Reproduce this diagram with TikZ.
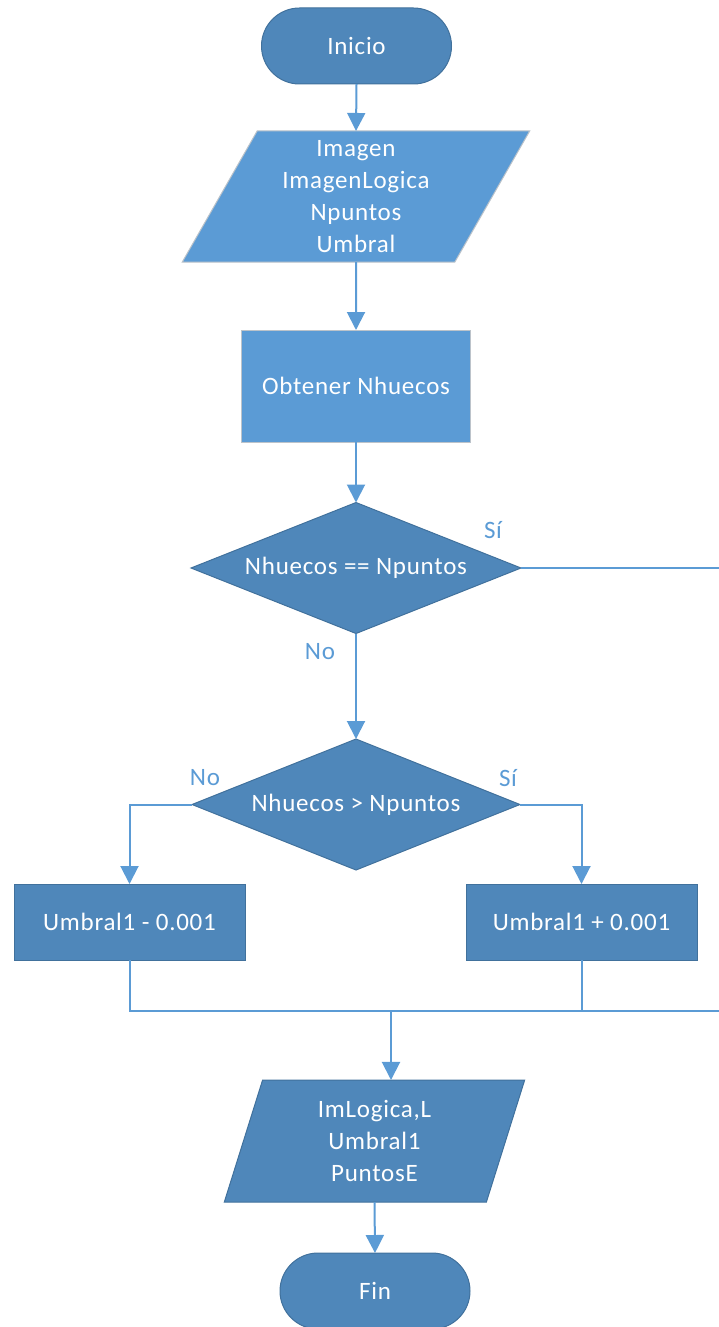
\documentclass[tikz,border=0pt]{standalone}
\usepackage{fontspec}
\setmainfont{Carlito}[LetterSpace=3]
\usetikzlibrary{shapes.geometric,shapes.misc,arrows.meta}
\definecolor{lblue}{HTML}{5B9BD5}
\definecolor{dblue}{HTML}{4F87BA}
\definecolor{dborder}{HTML}{41719C}
\definecolor{gborder}{HTML}{BCC3CA}
\begin{document}
\begin{tikzpicture}[x=1pt,y=-1pt,
  every node/.style={font=\fontsize{25}{32}\selectfont, align=center, inner sep=0pt, outer sep=0pt},
  shp/.style={text=white, line width=1pt},
  lightshp/.style={shp, fill=lblue, draw=gborder},
  darkshp/.style={shp, fill=dblue, draw=dborder},
  term/.style={darkshp, rounded rectangle, minimum width=190pt, minimum height=76pt},
  iobox/.style={trapezium, trapezium stretches=true},
  procl/.style={lightshp, rectangle, minimum width=229pt, minimum height=112pt},
  procd/.style={darkshp, rectangle, minimum width=231pt, minimum height=76pt},
  dec/.style={darkshp, diamond, aspect=2.5, minimum width=328pt, minimum height=131pt},
  conn/.style={draw=lblue, line width=2pt},
  arr/.style={conn, -{Triangle[length=18pt,width=18pt]}},
  lbl/.style={text=lblue}
]
\useasboundingbox (0,0) rectangle (719,1327);

\node[term] (ini) at (356.5,46) {Inicio};
\node[lightshp, iobox, trapezium left angle=63.6, trapezium right angle=116.4,
      minimum width=348pt, minimum height=131pt] (p1) at (356,196.5)
      {Imagen\\ImagenLogica\\Npuntos\\Umbral};
\node[procl] (obt) at (356,386) {Obtener Nhuecos};
\node[dec, minimum width=330pt] (d1) at (356,568) {Nhuecos == Npuntos};
\node[dec] (d2) at (356,804.5) {Nhuecos > Npuntos};
\node[procd] (bl) at (129.5,922) {Umbral1 - 0.001};
\node[procd] (br) at (581.5,922) {Umbral1 + 0.001};
\node[darkshp, iobox, trapezium left angle=76.6, trapezium right angle=103.4,
      minimum width=301pt, minimum height=122pt] (p2) at (374.5,1141)
      {ImLogica,L\\Umbral1\\PuntosE};
\node[term] (fin) at (375,1291) {Fin};

\coordinate (mrg) at (391,1011);
\coordinate (edge) at (740,0);

\draw[arr] (ini.south) -- (p1.north);
\draw[arr] (p1.south) -- (obt.north);
\draw[arr] (obt.south) -- (d1.north);
\draw[conn] (d1.east) -- (d1.east -| edge) |- (mrg);
\draw[arr] (d1.south) -- (d2.north);
\draw[arr] (d2.west) -| (bl.north);
\draw[arr] (d2.east) -| (br.north);
\draw[conn] (bl.south) |- (mrg);
\draw[conn] (br.south) |- (mrg);
\draw[arr] (mrg) -- (mrg |- p2.north);
\draw[arr] (p2.south) -- (fin.north);

\node[lbl] (s1) at (493,530) {Sí};
\node[lbl] (n1) at (320,652) {No};
\node[lbl] (n2) at (205,778) {No};
\node[lbl] (s2) at (508,778) {Sí};
\end{tikzpicture}
\end{document}
